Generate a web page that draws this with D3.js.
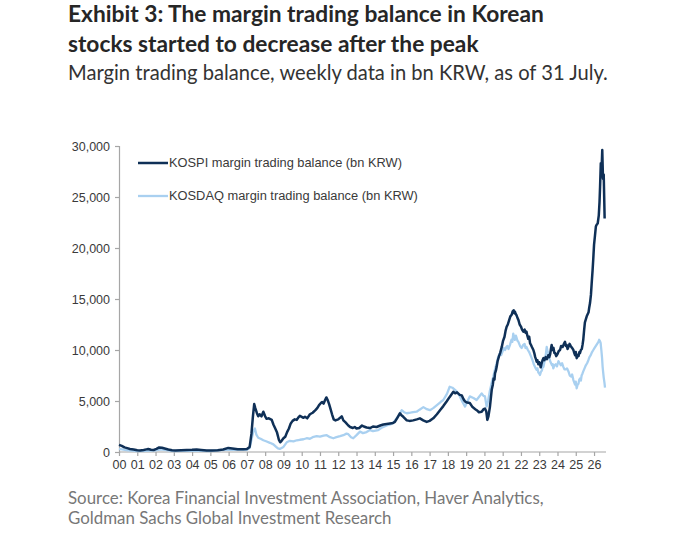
<!DOCTYPE html>
<html>
<head>
<meta charset="utf-8">
<script src="https://cdn.jsdelivr.net/npm/d3@7"></script>
<style>
body { margin: 0; background: #fff; }
svg { display: block; }
</style>
</head>
<body>
<div id="chart"></div>
<script>

// data (years since 2000, bn KRW)
var kospiYears = [0.00,0.15,0.30,0.45,0.60,0.80,1.00,1.15,1.35,1.50,1.60,1.75,1.90,2.05,2.20,2.35,2.50,2.70,2.90,3.10,3.40,3.70,4.00,4.25,4.50,4.80,5.10,5.40,5.70,5.98,6.20,6.50,6.80,7.00,7.15,7.25,7.33,7.40,7.46,7.55,7.62,7.70,7.80,7.90,8.00,8.08,8.20,8.36,8.45,8.54,8.65,8.75,8.82,8.90,9.00,9.10,9.20,9.30,9.40,9.50,9.62,9.73,9.82,9.90,10.00,10.10,10.18,10.30,10.45,10.60,10.75,10.85,10.95,11.05,11.12,11.20,11.28,11.35,11.42,11.50,11.58,11.66,11.75,11.85,12.00,12.10,12.19,12.28,12.40,12.55,12.65,12.80,12.90,13.00,13.15,13.30,13.40,13.55,13.74,13.90,14.10,14.30,14.47,14.65,14.83,15.00,15.10,15.25,15.38,15.46,15.56,15.75,15.90,16.10,16.30,16.47,16.65,16.84,17.00,17.20,17.40,17.57,17.75,17.93,18.10,18.30,18.40,18.50,18.65,18.76,18.85,18.94,19.05,19.20,19.35,19.50,19.58,19.70,19.85,19.95,20.03,20.10,20.16,20.22,20.30,
	20.40,20.46,20.50,20.55,20.58,20.63,20.67,20.72,20.80,20.86,20.95,21.02,21.10,21.16,21.22,21.28,21.35,21.42,21.49,21.55,21.60,21.64,21.67,21.72,21.76,21.82,21.86,21.93,22.00,22.06,22.13,22.20,22.25,22.30,22.35,22.40,22.45,22.50,22.55,22.60,22.68,22.73,22.78,22.82,22.86,22.90,22.95,23.00,23.04,23.08,23.12,23.18,23.23,23.28,23.35,23.42,23.50,23.55,23.60,23.65,23.68,23.73,23.78,23.83,23.87,23.93,24.00,24.07,24.14,24.20,24.28,24.35,24.41,24.46,24.50,24.55,24.60,24.66,24.72,24.80,24.87,24.92,24.96,25.00,25.05,25.10,25.15,25.20,25.23,25.28,25.33,25.37,25.41,25.46,25.50,25.55,25.60,25.65,25.70,25.74,25.78,25.83,25.87,25.92,25.96,26.00,26.05,26.10,26.15,26.20,26.26,26.30,26.33,26.37,26.40,26.45,26.49,26.53,26.58];
var kospiValues = [700,600,450,380,300,250,180,150,200,260,300,220,200,300,450,420,350,250,170,150,180,200,220,250,200,150,150,180,250,400,350,260,280,300,500,1800,3500,4700,4300,3800,3500,3700,3500,3950,3500,3250,3300,3150,2700,2350,1900,1200,950,1100,1350,1500,1950,2300,2800,3050,3200,3150,3400,3550,3450,3350,3450,3300,3700,3850,4100,4300,4600,4800,4900,4750,5100,5350,5100,4700,4200,3700,3200,3100,3200,3350,3500,3100,2900,2600,2450,2350,2450,2300,2350,2600,2500,2400,2350,2500,2450,2600,2700,2750,2800,2850,2950,3400,3800,3600,3450,3100,3050,3100,3200,3300,3100,2950,3050,3300,3700,4100,4500,4950,5400,5900,5750,5850,5600,5550,5200,4950,4850,4800,4400,4200,4100,3900,3950,4200,4250,4000,3150,3500,4400,
	6100,6600,7200,7100,7700,8000,8350,8900,9400,9700,10300,10900,11300,11900,12300,12500,12900,13300,13450,13800,13900,13600,13750,13500,13400,13100,12950,12500,12300,12000,11800,12000,11700,11800,11400,11100,11300,10650,10500,10300,10000,9700,9300,9100,8850,9000,8600,8800,8700,8300,8600,9000,9200,9000,9300,9100,9500,9300,9600,10200,10500,10000,10200,9700,9700,9400,9600,9900,10000,10400,10300,10600,10800,10400,10500,10100,10300,10600,10400,10200,10000,9700,9500,9800,9200,9500,9400,9800,9700,10000,10100,10500,11000,12000,12700,13000,13300,13500,13700,14200,14600,15400,16500,17800,19000,20300,21200,22100,22300,22400,23200,24500,26000,28300,27000,29600,26800,27200,22900];

var kosdaqYears = [0.00,0.50,1.00,1.50,2.00,2.30,2.70,3.00,3.50,4.00,4.50,5.00,5.40,5.80,6.20,6.60,7.00,7.15,7.25,7.35,7.44,7.52,7.62,7.75,7.90,8.05,8.26,8.45,8.60,8.70,8.80,9.00,9.18,9.35,9.55,9.73,9.90,10.10,10.27,10.45,10.60,10.82,11.00,11.20,11.37,11.55,11.73,11.90,12.10,12.28,12.45,12.55,12.70,12.82,13.00,13.19,13.35,13.55,13.74,13.90,14.05,14.19,14.35,14.47,14.65,14.85,15.00,15.20,15.35,15.47,15.60,15.75,15.95,16.10,16.29,16.45,16.66,16.85,17.02,17.20,17.40,17.60,17.75,17.95,18.10,18.25,18.39,18.50,18.66,18.80,18.94,19.05,19.20,19.40,19.57,19.70,19.85,19.95,20.03,20.12,20.20,
	20.30,20.40,20.49,20.58,20.67,20.75,20.85,20.92,21.00,21.06,21.13,21.20,21.25,21.32,21.40,21.48,21.53,21.58,21.62,21.67,21.72,21.76,21.81,21.86,21.95,22.04,22.12,22.20,22.25,22.30,22.38,22.45,22.52,22.59,22.65,22.70,22.78,22.86,22.90,22.95,23.00,23.04,23.10,23.15,23.20,23.23,23.28,23.33,23.37,23.41,23.45,23.50,23.55,23.60,23.65,23.70,23.74,23.77,23.83,23.90,23.97,24.05,24.12,24.18,24.25,24.32,24.38,24.45,24.52,24.60,24.67,24.75,24.80,24.87,24.92,24.96,25.00,25.05,25.10,25.15,25.19,25.23,25.28,25.32,25.37,25.41,25.48,25.55,25.62,25.69,25.75,25.82,25.89,25.96,26.03,26.10,26.17,26.24,26.28,26.32,26.36,26.40,26.44,26.47,26.50,26.53,26.57,26.60];
var kosdaqValues = [300,150,100,120,150,250,150,100,120,130,120,100,150,200,220,200,220,400,1200,2000,2300,1700,1400,1300,1150,1050,900,750,500,350,300,500,950,1100,1050,1150,1200,1250,1350,1300,1450,1550,1500,1600,1650,1450,1350,1450,1550,1650,1800,1750,1450,1350,1650,2000,1850,1950,2150,2050,2100,2150,2350,2450,2600,2700,2850,3300,3700,4100,3900,3800,3850,3900,3950,4150,4400,4200,4100,4300,4600,4900,5100,5700,6400,6300,6100,5900,5450,4900,4450,4900,5450,5300,5100,5400,5750,5500,5450,4450,5000,
	6000,6800,7400,8100,8700,9300,9700,9500,9900,10200,10000,10300,10400,10100,10500,11000,10800,11600,11300,11000,11400,11200,10900,10800,10400,10200,10500,10600,10200,10300,10000,9800,9500,9200,8900,8600,8300,8050,8200,7800,7700,7550,7900,8000,8500,8350,8800,9200,9700,10300,9900,9700,9200,8900,8700,8500,8600,8200,8500,8600,8400,8900,8700,8500,8700,8350,8100,8100,8200,7900,7500,7400,7600,7050,6800,6600,6900,6250,6600,6700,7100,7200,7000,7500,7700,7900,8200,8500,8700,9000,9300,9500,9800,10000,10200,10400,10600,10800,11000,10900,10700,10000,9200,8350,7800,7300,6800,6300];

var yearLabels = ['00','01','02','03','04','05','06','07','08','09','10','11','12','13','14','15','16','17','18','19','20','21','22','23','24','25','26'];
var yTicks = [0, 5000, 10000, 15000, 20000, 25000, 30000];
var seriesNames = ['KOSPI margin trading balance (bn KRW)', 'KOSDAQ margin trading balance (bn KRW)'];

var width = 700, height = 533;
var darkBlue = '#0f3057', lightBlue = '#a9d0f0';

var svg = d3.select('#chart')
    .append('svg')
    .attr('width', width)
    .attr('height', height);

// fit a text element to a measured width by scaling its font size
var fitText = function(sel, target) {
	var w = sel.node().getComputedTextLength();
	var fs = parseFloat(sel.attr('font-size'));
	sel.attr('font-size', (fs * target / w).toFixed(2));
}

// headings
var t1 = svg.append('text')
	.attr('x', 68).attr('y', 22)
	.attr('font-family', 'Lato').attr('font-weight', 'bold')
	.attr('font-size', 20).attr('fill', '#262626')
	.text('Exhibit 3: The margin trading balance in Korean');
fitText(t1, 476);

var t2 = svg.append('text')
	.attr('x', 68).attr('y', 52)
	.attr('font-family', 'Lato').attr('font-weight', 'bold')
	.attr('font-size', t1.attr('font-size')).attr('fill', '#262626')
	.text('stocks started to decrease after the peak');

var sub = svg.append('text')
	.attr('x', 68).attr('y', 80)
	.attr('font-family', 'Lato')
	.attr('font-size', 18).attr('fill', '#333')
	.text('Margin trading balance, weekly data in bn KRW, as of 31 July.');
fitText(sub, 540);

var s1 = svg.append('text')
	.attr('x', 68).attr('y', 504)
	.attr('font-family', 'Lato')
	.attr('font-size', 15).attr('fill', '#777')
	.text('Source: Korea Financial Investment Association, Haver Analytics,');
fitText(s1, 476);

svg.append('text')
	.attr('x', 68).attr('y', 524)
	.attr('font-family', 'Lato')
	.attr('font-size', s1.attr('font-size')).attr('fill', '#777')
	.text('Goldman Sachs Global Investment Research');

// scales
var x = d3.scaleLinear().domain([0, 26.6]).range([119, 605]);
var y = d3.scaleLinear().domain([0, 30000]).range([452, 146]);

// axes
var yAxis = svg.append('g')
	.attr('transform', 'translate(119,0)')
	.call(d3.axisLeft(y).tickValues(yTicks).tickSize(4).tickPadding(5).tickFormat(d3.format(',')));

var xAxis = svg.append('g')
	.attr('transform', 'translate(0,452)')
	.call(d3.axisBottom(x).tickValues(d3.range(yearLabels.length)).tickSize(4).tickPadding(4)
		.tickFormat(function(d) { return yearLabels[d]; }));

[yAxis, xAxis].forEach(function(ax) {
	ax.select('.domain').attr('stroke', '#a6a6a6').attr('stroke-width', 1.2);
	ax.selectAll('.tick line').attr('stroke', '#a6a6a6').attr('stroke-width', 1.2);
	ax.selectAll('.tick text')
		.attr('font-family', 'Liberation Sans')
		.attr('font-size', 12.5)
		.attr('fill', '#3a3a3a');
});
xAxis.select('.domain').attr('d', 'M119,0H606');

// lines
var line = function(xs) {
	return d3.line()
		.x(function(d, i) { return x(xs[i]); })
		.y(function(d) { return y(d); });
}

svg.append('path')
	.datum(kosdaqValues)
	.attr('fill', 'none')
	.attr('stroke', lightBlue)
	.attr('stroke-width', 2.3)
	.attr('stroke-linejoin', 'round')
	.attr('d', line(kosdaqYears));

svg.append('path')
	.datum(kospiValues)
	.attr('fill', 'none')
	.attr('stroke', darkBlue)
	.attr('stroke-width', 2.5)
	.attr('stroke-linejoin', 'round')
	.attr('d', line(kospiYears));

// legend
var legend = svg.append('g');
[darkBlue, lightBlue].forEach(function(c, i) {
	var ly = 163 + i * 33;
	legend.append('line')
		.attr('x1', 138).attr('x2', 168)
		.attr('y1', ly).attr('y2', ly)
		.attr('stroke', c).attr('stroke-width', i == 0 ? 2.5 : 2.3);
	var lt = legend.append('text')
		.attr('x', 169).attr('y', ly + 4)
		.attr('font-family', 'Liberation Sans')
		.attr('font-size', 11.5).attr('fill', '#3a3a3a')
		.text(seriesNames[i]);
	fitText(lt, i == 0 ? 233 : 249);
});

</script>
</body>
</html>
